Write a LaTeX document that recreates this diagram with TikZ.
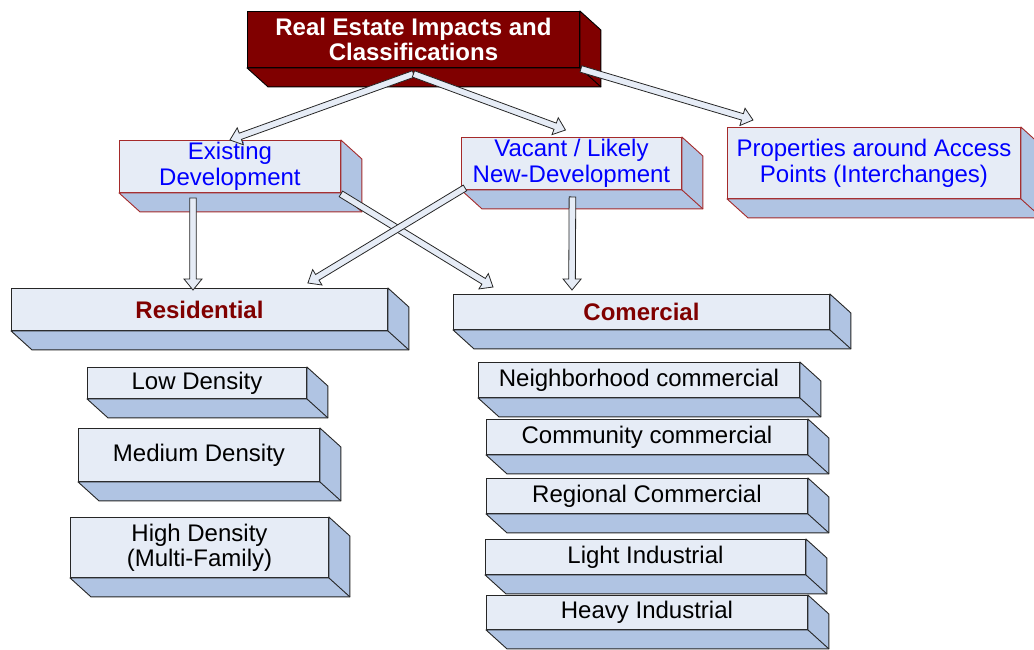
\documentclass[tikz,border=0pt]{standalone}
\usepackage{fontspec}
\setmainfont{Liberation Sans}
\usetikzlibrary{calc}
\definecolor{topred}{HTML}{800000}
\definecolor{frontfill}{HTML}{E6ECF6}
\definecolor{sidefill}{HTML}{B0C4E3}
\definecolor{lvltwoline}{HTML}{A52A2A}
\definecolor{txtblue}{HTML}{0000FF}
\definecolor{txtred}{HTML}{800000}
\definecolor{outline}{HTML}{262626}

\tikzset{
  boxface/.style={draw, rectangle, anchor=north west, inner sep=0pt, align=center, line width=0.9pt},
  topface/.style={boxface, fill=topred, draw=black, text=white, font=\fontsize{24}{25}\selectfont\bfseries},
  midface/.style={boxface, fill=frontfill, draw=lvltwoline, text=txtblue, font=\fontsize{24}{26}\selectfont},
  catface/.style={boxface, fill=frontfill, draw=outline, text=txtred, font=\fontsize{24}{25}\selectfont\bfseries},
  subface/.style={boxface, fill=frontfill, draw=outline, text=black, font=\fontsize{24}{25}\selectfont},
  blkarrow/.style={draw=outline, fill=frontfill, line width=0.8pt, line join=miter},
}

\newcommand\boxdepth[3]{%
  \filldraw[fill=#2, draw=#3, line width=0.9pt, line join=round]
    (#1.south west) -- ([shift={(21,19)}]#1.south west) -- ([shift={(21,19)}]#1.south east)
    -- ([shift={(21,19)}]#1.north east) -- (#1.north east) -- (#1.south east) -- cycle;
  \draw[draw=#3, line width=0.9pt] (#1.south east) -- ([shift={(21,19)}]#1.south east);
}

\newcommand\blockarrow[2]{%
  \coordinate (ba-s) at (#1);
  \coordinate (ba-e) at (#2);
  \coordinate (ba-h) at ($(ba-e)!11pt!(ba-s)$);
  \draw[blkarrow] ($(ba-s)!3.3pt!90:(ba-e)$) -- ($(ba-h)!3.3pt!90:(ba-e)$)
    -- ($(ba-h)!9pt!90:(ba-e)$) -- (ba-e) -- ($(ba-h)!9pt!-90:(ba-e)$)
    -- ($(ba-h)!3.3pt!-90:(ba-e)$) -- ($(ba-s)!3.3pt!-90:(ba-e)$) -- cycle;
}

\begin{document}
\begin{tikzpicture}[x=1pt, y=-1pt]
\useasboundingbox (0,0) rectangle (1034,649);

% top
\node[topface, minimum width=332pt, minimum height=56pt] (top) at (247,11) {Real Estate Impacts and\\Classifications};
\boxdepth{top}{topred}{black}

% level 2
\node[midface, minimum width=221pt, minimum height=52pt] (exist) at (119,140) {Existing\\Development};
\boxdepth{exist}{sidefill}{lvltwoline}
\node[midface, minimum width=220pt, minimum height=52pt] (vac) at (461,137) {Vacant / Likely\\New-Development};
\boxdepth{vac}{sidefill}{lvltwoline}
\node[midface, minimum width=293pt, minimum height=71pt] (prop) at (727,127) {Properties around Access\\Points (Interchanges)};
\boxdepth{prop}{sidefill}{lvltwoline}

% categories
\node[catface, minimum width=376pt, minimum height=42pt] (res) at (11,288) {Residential};
\boxdepth{res}{sidefill}{outline}
\node[catface, minimum width=376pt, minimum height=35pt] (com) at (453,294) {Comercial};
\boxdepth{com}{sidefill}{outline}

% residential sub
\node[subface, minimum width=219pt, minimum height=31pt] (low) at (87,367) {Low Density};
\boxdepth{low}{sidefill}{outline}
\node[subface, minimum width=241pt, minimum height=53pt] (med) at (78,428) {Medium Density};
\boxdepth{med}{sidefill}{outline}
\node[subface, minimum width=258pt, minimum height=60pt] (high) at (70,517) {High Density\\(Multi-Family)};
\boxdepth{high}{sidefill}{outline}

% commercial sub
\node[subface, minimum width=321pt, minimum height=35pt] (nb) at (478,362) {Neighborhood commercial};
\boxdepth{nb}{sidefill}{outline}
\node[subface, minimum width=321pt, minimum height=35pt] (cm) at (486,419) {Community commercial};
\boxdepth{cm}{sidefill}{outline}
\node[subface, minimum width=321pt, minimum height=35pt] (rg) at (486,478) {Regional Commercial};
\boxdepth{rg}{sidefill}{outline}
\node[subface, minimum width=320pt, minimum height=35pt] (li) at (485,539) {Light Industrial};
\boxdepth{li}{sidefill}{outline}
\node[subface, minimum width=321pt, minimum height=34pt] (hv) at (486,595) {Heavy Industrial};
\boxdepth{hv}{sidefill}{outline}

% arrows
\blockarrow{[shift={(0,6)}]top.south}{exist.north}
\blockarrow{[shift={(0,6)}]top.south}{[shift={(-6,-7)}]vac.north}
\blockarrow{[shift={(1,1)}]top.south east}{[shift={(26,-7)}]prop.north west}
\blockarrow{[shift={(74,5)}]exist.south west}{[shift={(182,2)}]res.north west}
\blockarrow{[shift={(0,1)}]exist.south east}{[shift={(40,-7)}]com.north west}
\blockarrow{[shift={(4,-2)}]vac.south west}{[shift={(-80,-5)}]res.north east}
\blockarrow{[shift={(1,7)}]vac.south}{[shift={(119,-4)}]com.north west}
\end{tikzpicture}
\end{document}
